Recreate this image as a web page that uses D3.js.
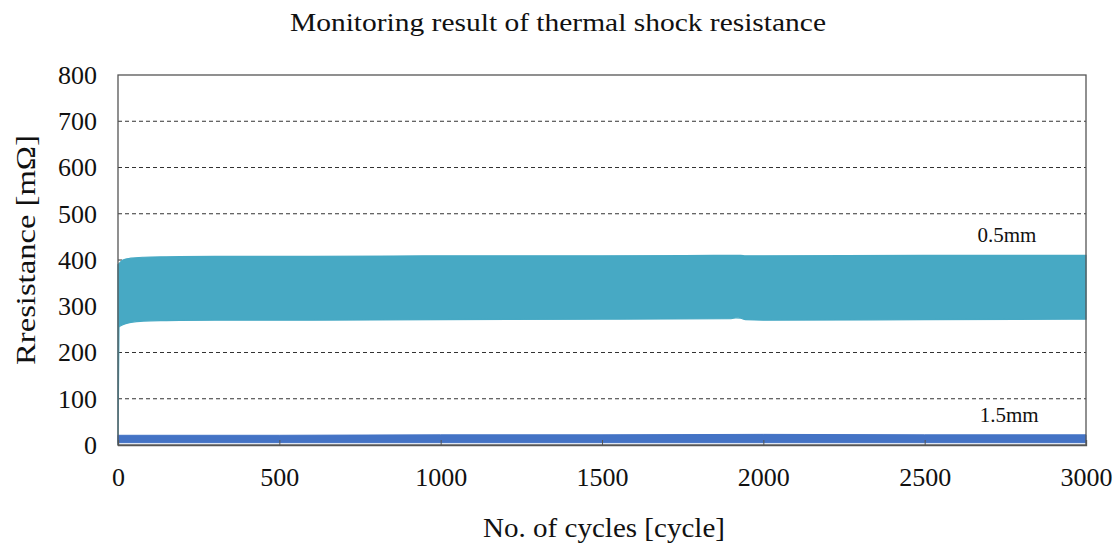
<!DOCTYPE html>
<html>
<head>
<meta charset="utf-8">
<script src="https://cdn.jsdelivr.net/npm/d3@7"></script>
<style>
  html, body { margin: 0; padding: 0; background: #fff; }
  svg { display: block; }
  svg text { font-family: "Liberation Serif", "Times New Roman", "DejaVu Serif", serif !important; }
</style>
</head>
<body>
<svg id="chart" width="1118" height="551"></svg>
<script>
// ---- data ----
const title = "Monitoring result of thermal shock resistance";
const xTitle = "No. of cycles [cycle]";
const yTitle = "Rresistance [mΩ]";
const xTicks = [0, 500, 1000, 1500, 2000, 2500, 3000];
const yTicks = [0, 100, 200, 300, 400, 500, 600, 700, 800];

// 0.5mm sample: envelope (max/min) of the oscillating resistance
const cycles05 = [0, 3, 15, 40, 80, 150, 300, 600, 1000, 1500, 1900, 1915, 1930, 1945, 2000, 2500, 3000];
const high05   = [390, 392, 400, 404, 406, 407, 408, 408, 409, 409, 410, 410, 410, 409, 409, 410, 410];
const low05    = [0, 255, 260, 265, 268, 269, 270, 270, 271, 272, 273, 275, 274, 271, 270, 271, 272];

// 1.5mm sample
const cycles15 = [0, 500, 1000, 1500, 2000, 2500, 3000];
const high15   = [21, 21, 22, 22, 23, 22, 22];
const low15    = [5, 5, 5, 5, 5, 5, 5];

const seriesLabels = ["0.5mm", "1.5mm"];

// ---- layout ----
const FONT = "Liberation Serif, Times New Roman, DejaVu Serif, serif";
const svg = d3.select("#chart");
const W = 1118, H = 551;
const margin = {left: 118, right: W - 1086, top: 75, bottom: H - 445};
const x = d3.scaleLinear().domain([0, 3000]).range([margin.left, W - margin.right]);
const y = d3.scaleLinear().domain([0, 800]).range([H - margin.bottom, margin.top]);

// gridlines
svg.append("g")
  .selectAll("line")
  .data(yTicks.filter(v => v > 0 && v < 800))
  .join("line")
  .attr("x1", x(0)).attr("x2", x(3000))
  .attr("y1", d => y(d)).attr("y2", d => y(d))
  .attr("stroke", "#333").attr("stroke-width", 1)
  .attr("stroke-dasharray", "4,3");

// bands
const area05 = d3.area()
  .x((d, i) => x(cycles05[i]))
  .y0((d, i) => y(low05[i]))
  .y1((d, i) => y(high05[i]))
  .curve(d3.curveMonotoneX);
svg.append("path").datum(cycles05)
  .attr("d", area05)
  .attr("fill", "#47a9c4")
  .attr("stroke", "#47a9c4").attr("stroke-width", 1.2);

const area15 = d3.area()
  .x((d, i) => x(cycles15[i]))
  .y0((d, i) => y(low15[i]))
  .y1((d, i) => y(high15[i]));
svg.append("path").datum(cycles15)
  .attr("d", area15)
  .attr("fill", "#4473c5")
  .attr("stroke", "#4473c5").attr("stroke-width", 1);

// frame
svg.append("rect")
  .attr("x", x(0)).attr("y", y(800))
  .attr("width", x(3000) - x(0)).attr("height", y(0) - y(800))
  .attr("fill", "none").attr("stroke", "#555").attr("stroke-width", 1.3);

// x axis (inner ticks)
const xAxis = d3.axisBottom(x).tickValues(xTicks).tickSize(-5).tickPadding(23).tickFormat(d3.format("d"));
const gx = svg.append("g").attr("transform", `translate(0,${y(0)})`).call(xAxis);
gx.attr("font-family", null).attr("font-size", null);
gx.select(".domain").attr("stroke", "#555").attr("stroke-width", 1.3);
gx.selectAll(".tick line").attr("stroke", "#555");
gx.selectAll("text").attr("fill", "#111").style("font-family", FONT).style("font-size", "26px");

// y axis
const yAxis = d3.axisLeft(y).tickValues(yTicks).tickSize(0).tickPadding(21).tickFormat(d3.format("d"));
const gy = svg.append("g").attr("transform", `translate(${x(0)},0)`).call(yAxis);
gy.attr("font-family", null).attr("font-size", null);
gy.select(".domain").remove();
gy.selectAll("text").attr("fill", "#111").style("font-family", FONT).style("font-size", "26px");

// series labels
svg.append("text").attr("x", x(2755)).attr("y", y(439)).attr("text-anchor", "middle")
  .style("font-family", FONT).style("font-size", "21px").attr("fill", "#111").text(seriesLabels[0]);
svg.append("text").attr("x", x(2762)).attr("y", y(50)).attr("text-anchor", "middle")
  .style("font-family", FONT).style("font-size", "21px").attr("fill", "#111").text(seriesLabels[1]);

// titles
svg.append("text").attr("x", 558).attr("y", 31).attr("text-anchor", "middle")
  .style("font-family", FONT).style("font-size", "26px").attr("fill", "#111")
  .attr("textLength", 536).attr("lengthAdjust", "spacingAndGlyphs").text(title);
svg.append("text").attr("x", 604).attr("y", 537).attr("text-anchor", "middle")
  .style("font-family", FONT).style("font-size", "27px").attr("fill", "#111")
  .attr("textLength", 242).attr("lengthAdjust", "spacingAndGlyphs").text(xTitle);
svg.append("text").attr("transform", `translate(35,250) rotate(-90)`)
  .attr("text-anchor", "middle")
  .style("font-family", FONT).style("font-size", "27px").attr("fill", "#111")
  .attr("textLength", 230).attr("lengthAdjust", "spacingAndGlyphs").text(yTitle);
</script>
</body>
</html>
